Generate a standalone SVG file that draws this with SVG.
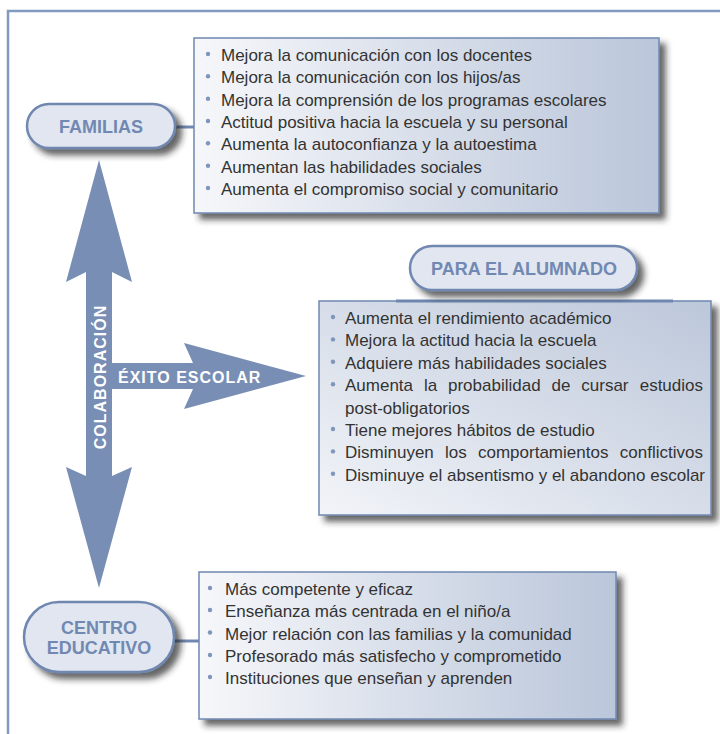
<svg xmlns="http://www.w3.org/2000/svg" width="720" height="734" viewBox="0 0 720 734">
<defs>
<linearGradient id="gBox" x1="0" y1="0" x2="1" y2="0">
<stop offset="0" stop-color="#f6f7fa"/>
<stop offset="1" stop-color="#bac6da"/>
</linearGradient>
<linearGradient id="gBox2" x1="0" y1="1" x2="1" y2="0">
<stop offset="0" stop-color="#f2f4f8"/>
<stop offset="1" stop-color="#bcc7da"/>
</linearGradient>
<filter id="sh" x="-10%" y="-20%" width="130%" height="150%">
<feDropShadow dx="6" dy="6" stdDeviation="3" flood-color="#222" flood-opacity="0.7"/>
</filter>
</defs>
<style>
.box{stroke:#7088b0;stroke-width:1.5;filter:url(#sh)}
.pill{fill:#e1e6f0;stroke:#6f87b0;stroke-width:2.5;filter:url(#sh)}
.ptxt{font-family:"Liberation Sans",Arial,sans-serif;font-weight:bold;font-size:18px;fill:#7189b2;text-anchor:middle}
.t{font-family:"Liberation Sans",Arial,sans-serif;font-size:17px;fill:#333333}
.dot{fill:#7f95bb}
.conn{stroke:#7088b0;stroke-width:3;fill:none}
.arrow{fill:#788eb4}
.atxt{font-family:"Liberation Sans",Arial,sans-serif;font-weight:bold;font-size:16px;fill:#ffffff;letter-spacing:1px}
</style>
<rect width="720" height="734" fill="#ffffff"/>
<path d="M8,734 V11 H720" fill="none" stroke="#8299c0" stroke-width="2.5"/>

<g id="connectors">
<line class="conn" x1="174" y1="127" x2="195" y2="127"/>
<line class="conn" x1="173" y1="641" x2="200" y2="641"/>
<g id="arrows">
<path class="arrow" d="M99,160 L132,282 L112,272 L112,363 L193,363 L184,343 L306,376 L184,409 L193,389 L112,389 L112,476 L132,467 L99,588 L66,467 L86,476 L86,272 L66,282 Z"/>
<text class="atxt" transform="translate(106,377) rotate(-90)" text-anchor="middle">COLABORACIÓN</text>
<text class="atxt" x="118" y="383">ÉXITO ESCOLAR</text>
</g>
</g>

<g id="familias-box">
<rect class="box" x="194" y="38" width="465" height="175" fill="url(#gBox)"/>
<g class="dot">
<circle cx="208" cy="54" r="2.2"/><circle cx="208" cy="76.3" r="2.2"/><circle cx="208" cy="98.7" r="2.2"/><circle cx="208" cy="121" r="2.2"/><circle cx="208" cy="143.3" r="2.2"/><circle cx="208" cy="165.7" r="2.2"/><circle cx="208" cy="188" r="2.2"/>
</g>
<text class="t" x="221" y="61">Mejora la comunicación con los docentes</text>
<text class="t" x="221" y="83.3">Mejora la comunicación con los hijos/as</text>
<text class="t" x="221" y="105.7">Mejora la comprensión de los programas escolares</text>
<text class="t" x="221" y="128">Actitud positiva hacia la escuela y su personal</text>
<text class="t" x="221" y="150.3">Aumenta la autoconfianza y la autoestima</text>
<text class="t" x="221" y="172.7">Aumentan las habilidades sociales</text>
<text class="t" x="221" y="195">Aumenta el compromiso social y comunitario</text>
</g>

<g id="familias">
<rect class="pill" x="27" y="104" width="148" height="44" rx="22"/>
<text class="ptxt" x="101" y="133">FAMILIAS</text>
</g>

<g id="alumnado-box">
<rect class="box" x="319" y="301" width="392" height="214" fill="url(#gBox2)"/>
<line x1="396" y1="301" x2="673" y2="301" stroke="#6f87b0" stroke-width="3"/>
<g class="dot">
<circle cx="333" cy="317" r="2.2"/><circle cx="333" cy="339.4" r="2.2"/><circle cx="333" cy="361.8" r="2.2"/><circle cx="333" cy="384.2" r="2.2"/><circle cx="333" cy="429" r="2.2"/><circle cx="333" cy="451.4" r="2.2"/><circle cx="333" cy="473.8" r="2.2"/>
</g>
<text class="t" x="345" y="324">Aumenta el rendimiento académico</text>
<text class="t" x="345" y="346.4">Mejora la actitud hacia la escuela</text>
<text class="t" x="345" y="368.8">Adquiere más habilidades sociales</text>
<text class="t" y="391.2"><tspan x="345">Aumenta</tspan><tspan x="424">la</tspan><tspan x="448">probabilidad</tspan><tspan x="551.5">de</tspan><tspan x="581.3">cursar</tspan><tspan x="703" text-anchor="end">estudios</tspan></text>
<text class="t" x="345" y="413.6">post-obligatorios</text>
<text class="t" x="345" y="436">Tiene mejores hábitos de estudio</text>
<text class="t" y="458.4"><tspan x="345">Disminuyen</tspan><tspan x="445">los</tspan><tspan x="478">comportamientos</tspan><tspan x="703" text-anchor="end">conflictivos</tspan></text>
<text class="t" x="345" y="480.8">Disminuye el absentismo y el abandono escolar</text>
</g>

<g id="para-el-alumnado">
<rect class="pill" x="410" y="246" width="227" height="44" rx="22"/>
<text class="ptxt" x="524" y="275">PARA EL ALUMNADO</text>
</g>

<g id="centro-box">
<rect class="box" x="199" y="572" width="417" height="147" fill="url(#gBox)"/>
<g class="dot">
<circle cx="210" cy="588" r="2.2"/><circle cx="210" cy="610" r="2.2"/><circle cx="210" cy="632.5" r="2.2"/><circle cx="210" cy="655" r="2.2"/><circle cx="210" cy="677" r="2.2"/>
</g>
<text class="t" x="225" y="595">Más competente y eficaz</text>
<text class="t" x="225" y="617">Enseñanza más centrada en el niño/a</text>
<text class="t" x="225" y="639.5">Mejor relación con las familias y la comunidad</text>
<text class="t" x="225" y="662">Profesorado más satisfecho y comprometido</text>
<text class="t" x="225" y="684">Instituciones que enseñan y aprenden</text>
</g>

<g id="centro-educativo">
<rect class="pill" x="24" y="602" width="150" height="70" rx="35"/>
<text class="ptxt" x="99" y="634">CENTRO</text>
<text class="ptxt" x="99" y="654">EDUCATIVO</text>
</g>
</svg>
